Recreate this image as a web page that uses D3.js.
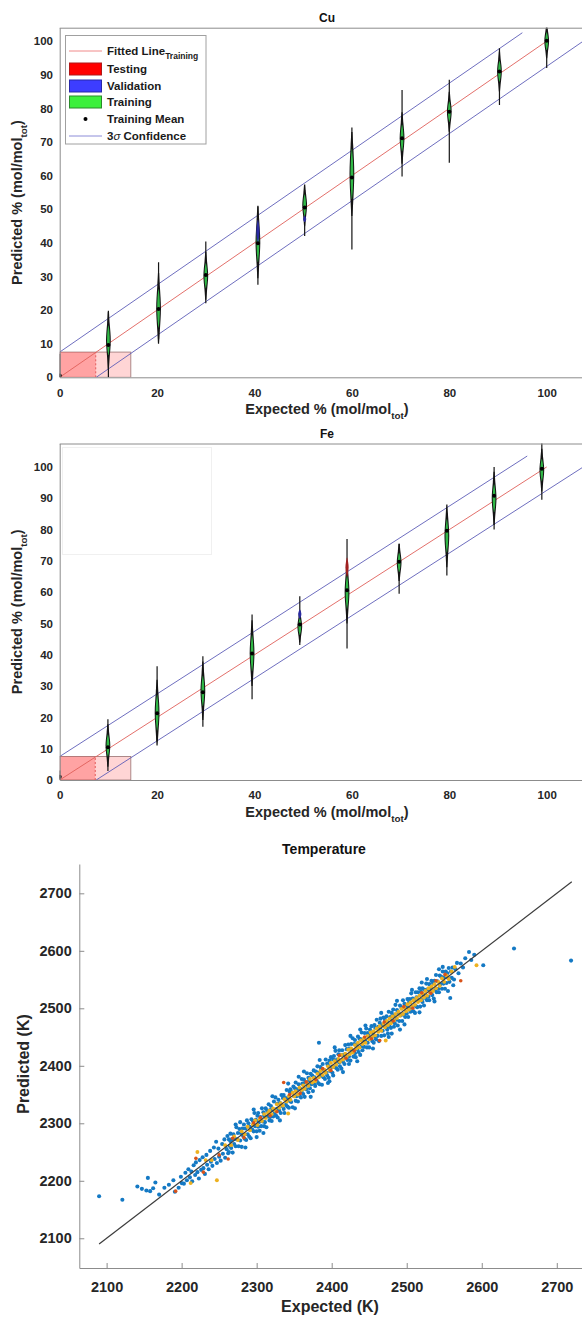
<!DOCTYPE html>
<html>
<head>
<meta charset="utf-8">
<script src="https://cdn.jsdelivr.net/npm/d3@7"></script>
<style>
  body { margin: 0; background: #fff; }
  svg { display: block; }
  text { font-family: "Liberation Sans", Arial, Helvetica, sans-serif; font-weight: bold; }
</style>
</head>
<body>
<svg id="chart" width="582" height="1318"></svg>
<script>
// ---------------- Cu: violins of predicted composition per expected level ----------------
const cuExpected = [0, 10, 20.3, 30, 40.7, 50.3, 60, 70.3, 80, 90.3, 100];
const cuMin      = [0, -1, 11.3, 22, 27.5, 42, 38, 59.7, 63.8, 81, 92];
const cuMax      = [7, 19.8, 34.2, 40.4, 51, 55.7, 74.3, 85.5, 88.5, 97.9, 106];
const cuMean     = [0.5, 9.6, 20.3, 30.4, 39.9, 50.5, 59.4, 71.1, 79, 91, 100.1];
const cuCoreLo   = [null, 6, 14, 26, 33.5, 47.5, 52, 66.7, 75.5, 87.5, 97];
const cuCoreHi   = [null, 16, 27, 34.4, 46.8, 54.8, 69, 75.7, 82.5, 94.5, 103];
const cuValLo    = [null, null, null, null, 40, 46.2, null, null, null, null, null];
const cuValHi    = [null, null, null, null, 46.8, 48, null, null, null, null, null];
const cuTestLo   = [null, null, null, null, null, null, null, null, null, null, null];
const cuTestHi   = [null, null, null, null, null, null, null, null, null, null, null];
const cuSigma3 = 7.5;          // half-width of the 3σ band
const cuUpperEnd = 95;         // last expected value of the upper 3σ line
const cuTestBox = [7.4, 14.6]; // testing region extents along x

// ---------------- Fe ----------------
const feExpected = [0, 9.9, 20, 29.4, 39.5, 49.3, 59, 69.7, 79.5, 89.2, 99];
const feMin      = [0, 2.9, 12.4, 17, 25.8, 43.1, 42, 59.5, 65.3, 80, 89.5];
const feMax      = [3, 19.4, 36.3, 39.5, 52.9, 58.7, 77, 75.5, 85.4, 100, 109];
const feMean     = [1, 10.5, 21.3, 28, 40.4, 49.7, 60.6, 69.7, 79.6, 90.8, 99.4];
const feCoreLo   = [null, 7, 15, 23, 34, 46, 54, 66, 72, 85, 95];
const feCoreHi   = [null, 15, 28, 34, 47, 52, 66, 73, 84, 95, 103];
const feValLo    = [null, null, null, null, null, 51.5, null, null, null, null, null];
const feValHi    = [null, null, null, null, null, 54.5, null, null, null, null, null];
const feTestLo   = [null, null, null, null, null, null, 65, null, null, null, null];
const feTestHi   = [null, null, null, null, null, null, 71, null, null, null, null];
const feSigma3 = 7.5;
const feUpperEnd = 96;
const feTestBox = [7.3, 14.6];

const pctTicksY = [0, 10, 20, 30, 40, 50, 60, 70, 80, 90, 100];
const pctTicksX = [0, 20, 40, 60, 80, 100];

// ---------------- Temperature: expected vs predicted (K) ----------------
const tempTraining = [
  [2090,2173],[2121,2167],[2141,2190],[2155,2205],[2153,2183],[2162,2187],[2165,2197],[2170,2176],
  [2177,2188],[2189,2201],[2191,2181],[2200,2196],[2158,2182],[2147,2186],[2183,2193],
  [2196,2188],[2199,2207],[2203,2195],[2205,2214],[2207,2201],[2209,2220],[2211,2206],[2213,2216],
  [2214,2199],[2216,2227],[2218,2210],[2219,2232],[2221,2215],[2223,2204],[2224,2236],[2226,2219],
  [2228,2241],[2229,2222],[2231,2212],[2233,2245],[2234,2228],[2236,2220],[2238,2252],[2239,2233],
  [2241,2226],[2243,2258],[2244,2238],[2246,2268],[2247,2231],[2249,2256],[2250,2242],[2252,2235],
  [2254,2264],[2255,2247],[2257,2272],[2258,2240],[2260,2255],[2261,2278],[2263,2250],[2265,2269],
  [2262,2248],[2263,2272],[2264,2261],[2265,2282],[2266,2257],[2267,2272],[2268,2249],[2269,2281],
  [2270,2264],[2271,2273],[2272,2260],[2273,2293],[2274,2272],[2275,2283],[2276,2260],[2277,2290],
  [2278,2270],[2279,2283],[2280,2259],[2281,2291],[2282,2278],[2283,2298],[2284,2273],[2285,2291],
  [2286,2271],[2287,2305],[2288,2281],[2289,2300],[2290,2277],[2291,2294],[2292,2274],[2293,2307],
  [2294,2289],[2295,2304],[2296,2286],[2297,2318],[2298,2295],[2299,2306],[2300,2286],
  [2301,2313],[2302,2294],[2302,2318],[2303,2302],[2304,2287],[2305,2311],[2306,2295],[2307,2326],
  [2308,2303],[2309,2319],[2310,2295],[2310,2313],[2311,2302],[2312,2326],[2313,2293],[2314,2322],
  [2315,2312],[2316,2333],[2317,2305],[2318,2323],[2318,2311],[2319,2330],[2320,2304],[2321,2323],
  [2322,2312],[2323,2338],[2324,2318],[2325,2345],[2326,2313],[2327,2334],[2327,2325],[2328,2310],
  [2329,2341],[2330,2322],[2331,2335],[2332,2318],[2333,2349],[2334,2330],[2335,2344],[2336,2325],
  [2336,2349],[2337,2318],[2338,2344],[2339,2332],[2340,2358],
  [2341,2329],[2342,2345],[2343,2327],[2344,2355],[2344,2339],[2345,2359],[2346,2337],[2347,2354],
  [2348,2328],[2349,2364],[2350,2347],[2351,2361],[2352,2339],[2352,2371],[2353,2347],[2354,2359],
  [2355,2338],[2356,2368],[2357,2348],[2358,2360],[2359,2345],[2360,2377],[2360,2356],[2361,2369],
  [2362,2351],[2363,2376],[2364,2346],[2365,2371],[2366,2359],[2367,2387],[2368,2366],[2369,2379],
  [2369,2354],[2370,2374],[2371,2361],[2372,2386],[2373,2368],[2374,2383],[2375,2356],[2376,2392],
  [2377,2369],[2377,2380],[2378,2365],[2379,2390],[2380,2374],
  [2381,2399],[2382,2370],[2383,2440],[2383,2388],[2384,2368],[2385,2398],[2386,2383],[2386,2394],
  [2387,2367],[2388,2403],[2389,2380],[2390,2392],[2391,2377],[2392,2411],[2393,2388],[2394,2404],
  [2394,2383],[2395,2401],[2396,2379],[2397,2409],[2398,2391],[2399,2415],[2400,2398],[2401,2388],
  [2402,2411],[2402,2383],[2403,2417],[2404,2398],[2405,2426],[2406,2396],[2407,2411],[2408,2393],
  [2409,2420],[2410,2406],[2410,2427],[2411,2399],[2412,2419],[2413,2395],[2414,2427],[2415,2407],
  [2416,2419],[2417,2403],[2418,2436],[2419,2416],[2420,2429],
  [2421,2410],[2422,2437],[2423,2416],[2423,2403],[2424,2430],[2425,2409],[2426,2438],[2427,2425],
  [2428,2448],[2429,2416],[2430,2438],[2431,2422],[2431,2445],[2432,2415],[2433,2437],[2434,2429],
  [2435,2451],[2436,2424],[2437,2447],[2438,2419],[2439,2446],[2440,2434],[2440,2458],[2441,2427],
  [2442,2445],[2443,2433],[2444,2457],[2445,2442],[2446,2465],[2447,2432],[2448,2457],[2448,2440],
  [2449,2454],[2450,2432],[2451,2463],[2452,2448],[2453,2469],[2454,2443],[2455,2457],[2456,2440],
  [2457,2471],[2457,2451],[2458,2466],[2459,2446],[2460,2480],
  [2461,2452],[2462,2468],[2463,2443],[2464,2475],[2465,2463],[2465,2482],[2466,2452],[2467,2471],
  [2468,2461],[2469,2484],[2470,2453],[2471,2480],[2472,2467],[2473,2486],[2474,2463],[2474,2476],
  [2475,2456],[2476,2494],[2477,2469],[2478,2485],[2479,2466],[2480,2492],[2481,2478],[2482,2498],
  [2483,2468],[2483,2488],[2484,2474],[2485,2506],[2486,2480],[2487,2497],[2488,2470],[2489,2492],
  [2490,2478],[2491,2505],[2491,2463],[2492,2488],[2493,2501],[2494,2478],[2495,2514],[2496,2489],
  [2497,2508],[2498,2485],[2499,2503],[2500,2491],
  [2501,2516],[2502,2485],[2503,2510],[2503,2500],[2504,2516],[2505,2494],[2506,2526],[2507,2501],
  [2508,2517],[2509,2495],[2510,2513],[2511,2492],[2512,2528],[2512,2504],[2513,2519],[2514,2502],
  [2515,2528],[2516,2514],[2517,2535],[2518,2503],[2519,2529],[2520,2515],[2521,2535],[2521,2511],
  [2522,2524],[2523,2505],[2524,2532],[2525,2518],[2526,2543],[2527,2514],[2528,2533],[2529,2520],
  [2530,2542],[2530,2514],[2531,2534],[2532,2528],[2533,2548],[2534,2523],[2535,2544],[2536,2517],
  [2537,2548],[2538,2532],[2539,2558],[2540,2528],
  [2541,2547],[2542,2534],[2543,2568],[2543,2528],[2544,2557],[2545,2542],[2546,2555],[2547,2534],
  [2548,2564],[2549,2543],[2550,2554],[2551,2534],[2552,2564],[2553,2544],[2554,2561],[2555,2553],
  [2556,2570],[2557,2546],[2558,2518],[2559,2564],[2560,2553],[2561,2571],[2563,2550],[2565,2568],
  [2567,2579],[2569,2561],[2572,2578],[2575,2571],[2578,2587],[2583,2598],[2586,2584],[2590,2593],
  [2602,2575],[2643,2604],[2719,2583],
  // scattered points at the edges of the band
  [2272,2298],[2285,2258],[2296,2324],[2309,2283],[2321,2347],[2331,2305],[2342,2369],[2351,2326],
  [2363,2390],[2372,2346],[2384,2410],[2395,2370],[2404,2432],[2415,2389],[2425,2452],[2434,2408],
  [2445,2470],[2455,2430],[2466,2492],[2476,2450],[2487,2513],[2497,2472],[2507,2532],[2517,2493],
  [2527,2551],[2537,2512],[2548,2572],[2555,2530],[2278,2302],[2300,2276],[2356,2381],[2397,2373],
  [2438,2463],[2480,2456],[2520,2545],[2562,2540]
];
const tempValidation = [
  [2212,2196],[2221,2250],[2247,2201],[2232,2236],[2240,2236],[2258,2262],[2266,2262],[2270,2277],
  [2275,2271],[2280,2286],[2284,2281],[2288,2294],[2291,2288],[2295,2298],[2298,2305],[2301,2297],
  [2304,2307],[2307,2304],[2310,2316],[2312,2309],[2315,2318],[2317,2322],[2320,2316],[2322,2326],
  [2325,2322],[2327,2333],[2330,2327],[2332,2335],[2335,2331],[2337,2342],[2340,2338],[2342,2317],
  [2343,2347],[2345,2341],[2348,2353],[2350,2347],[2352,2356],[2355,2350],[2357,2362],[2360,2358],
  [2362,2366],[2364,2360],[2367,2370],[2369,2365],[2371,2377],[2374,2371],[2376,2379],[2378,2373],
  [2381,2386],[2383,2380],[2385,2391],[2388,2384],[2390,2393],[2392,2388],[2395,2399],[2397,2393],
  [2399,2405],[2402,2398],[2404,2408],[2406,2402],[2409,2412],[2411,2407],[2413,2419],[2415,2411],
  [2418,2421],[2420,2416],[2422,2428],[2424,2420],[2426,2430],[2428,2423],[2431,2436],[2433,2430],
  [2435,2440],[2437,2432],[2439,2444],[2441,2438],[2443,2448],[2445,2440],[2448,2452],[2450,2446],
  [2452,2458],[2454,2450],[2456,2460],[2458,2453],[2460,2465],[2462,2459],[2464,2469],[2466,2461],
  [2469,2473],[2471,2467],[2472,2444],[2473,2478],[2475,2471],[2477,2482],[2479,2474],[2481,2486],
  [2483,2479],[2485,2490],[2487,2483],[2489,2494],[2491,2487],[2493,2499],[2495,2490],[2497,2501],
  [2499,2495],[2501,2507],[2503,2498],[2505,2510],[2507,2503],[2509,2514],[2511,2506],[2513,2518],
  [2515,2511],[2517,2522],[2519,2514],[2521,2526],[2523,2519],[2525,2530],[2527,2522],[2529,2535],
  [2531,2527],[2533,2538],[2535,2530],[2537,2542],[2539,2535],[2542,2546],[2544,2539],[2547,2552],
  [2550,2546],[2553,2557],[2556,2551],[2560,2564],[2564,2572],[2593,2575]
];
const tempTesting = [
  [2192,2182],[2219,2239],[2229,2215],[2250,2245],[2262,2238],[2268,2274],[2283,2275],[2296,2301],
  [2305,2310],[2318,2313],[2327,2320],[2336,2371],[2344,2350],[2358,2352],[2366,2372],[2379,2376],
  [2388,2395],[2399,2392],[2410,2418],[2419,2413],[2430,2426],[2444,2450],[2453,2447],[2464,2444],
  [2470,2476],[2482,2478],[2496,2503],[2508,2500],[2520,2527],[2532,2526],[2539,2548],[2551,2559],
  [2572,2548]
];
const tempTicks = [2100, 2200, 2300, 2400, 2500, 2600, 2700];
const identityRange = [2090, 2720];

// ---------------- drawing ----------------
const svg = d3.select("#chart");
const axisGray = "#8c8c8c";
const labelColor = "#262626";

const xPct = d3.scaleLinear().domain([0, 110]).range([59.7, 595.4]);

function styleAxis(g, fontSize) {
  g.select(".domain").attr("stroke", axisGray).attr("stroke-width", 1);
  g.selectAll(".tick line").attr("stroke", axisGray);
  g.selectAll(".tick text").attr("fill", labelColor).attr("font-size", fontSize)
    .attr("font-family", "Liberation Sans, Arial, sans-serif").attr("font-weight", "bold");
}

function subscriptLabel(sel, main, sub, tail, size) {
  sel.append("tspan").text(main);
  sel.append("tspan").text(sub).attr("font-size", size * 0.68).attr("dy", size * 0.32);
  sel.append("tspan").text(tail).attr("dy", -size * 0.32);
}

function violinPanel(cfg) {
  const x = xPct;
  const y = d3.scaleLinear().domain([0, cfg.yMax]).range([cfg.bottom, cfg.top]);
  const clipId = "clip-" + cfg.id;
  svg.append("clipPath").attr("id", clipId).append("rect")
    .attr("x", x(0)).attr("y", cfg.top)
    .attr("width", x(110) - x(0)).attr("height", cfg.bottom - cfg.top);

  const g = svg.append("g");
  const plot = g.append("g").attr("clip-path", `url(#${clipId})`);

  // testing region
  plot.append("rect")
    .attr("x", x(0)).attr("y", y(cfg.sigma3))
    .attr("width", x(cfg.testBox[1]) - x(0)).attr("height", y(0) - y(cfg.sigma3))
    .attr("fill", "rgba(255,0,0,0.165)").attr("stroke", "#a47e7e").attr("stroke-width", 0.9);
  plot.append("rect")
    .attr("x", x(0)).attr("y", y(cfg.sigma3))
    .attr("width", x(cfg.testBox[0]) - x(0)).attr("height", y(0) - y(cfg.sigma3))
    .attr("fill", "rgba(255,0,0,0.23)");
  plot.append("line")
    .attr("x1", x(cfg.testBox[0])).attr("x2", x(cfg.testBox[0]))
    .attr("y1", y(0)).attr("y2", y(cfg.sigma3))
    .attr("stroke", "#e05050").attr("stroke-width", 0.9).attr("stroke-dasharray", "2,2");

  const line = d3.line().x(d => x(d[0])).y(d => y(d[1]));
  // 3σ confidence lines
  plot.append("path").datum([[0, cfg.sigma3], [cfg.upperEnd, cfg.upperEnd + cfg.sigma3]])
    .attr("d", line).attr("fill", "none").attr("stroke", "#5e5eb8").attr("stroke-width", 0.9);
  plot.append("path").datum([[cfg.sigma3, 0], [112, 112 - cfg.sigma3]])
    .attr("d", line).attr("fill", "none").attr("stroke", "#5e5eb8").attr("stroke-width", 0.9);
  // fitted line
  plot.append("path").datum([[0, 0], [100, 100]])
    .attr("d", line).attr("fill", "none").attr("stroke", "#e0605a").attr("stroke-width", 0.9);

  const spindle = (cx) => d3.area().curve(d3.curveCatmullRom.alpha(0.5))
    .y(d => y(d.v)).x0(d => cx - d.w).x1(d => cx + d.w);

  cfg.xs.forEach((xv, i) => {
    const cx = x(xv);
    // tails
    plot.append("line").attr("x1", cx).attr("x2", cx)
      .attr("y1", y(cfg.min[i])).attr("y2", y(cfg.max[i]))
      .attr("stroke", "#151515").attr("stroke-width", 1.2);
    const lo = cfg.coreLo[i], hi = cfg.coreHi[i];
    if (lo != null) {
      const L = hi - lo, mid = (lo + hi) / 2;
      const ext = Math.min(L * 0.35, 4);
      const outer = [
        { v: lo - ext, w: 0.6 }, { v: lo, w: 1.3 }, { v: lo + L * 0.25, w: 2.0 },
        { v: mid, w: 2.4 }, { v: hi - L * 0.25, w: 2.0 }, { v: hi, w: 1.3 }, { v: hi + ext, w: 0.6 }
      ];
      plot.append("path").datum(outer).attr("d", spindle(cx)).attr("fill", "#141414");
      const inner = [
        { v: lo + L * 0.06, w: 0.15 }, { v: lo + L * 0.25, w: 1.0 }, { v: mid, w: 1.35 },
        { v: hi - L * 0.25, w: 1.0 }, { v: hi - L * 0.06, w: 0.15 }
      ];
      plot.append("path").datum(inner).attr("d", spindle(cx)).attr("fill", "#30b846");
    }
    // validation and testing sub-spindles
    [[cfg.valLo, cfg.valHi, "#2a2aa0"], [cfg.testLo, cfg.testHi, "#a02020"]].forEach(([a, b, col]) => {
      if (a[i] == null) return;
      const mid = (a[i] + b[i]) / 2;
      const pts = [{ v: a[i], w: 0.3 }, { v: mid, w: 1.6 }, { v: b[i], w: 0.3 }];
      plot.append("path").datum(pts).attr("d", spindle(cx)).attr("fill", col);
    });
    // training mean
    plot.append("circle").attr("cx", cx).attr("cy", y(cfg.mean[i])).attr("r", 2).attr("fill", "#000");
  });

  // axes
  const ay = g.append("g").attr("transform", `translate(${x(0)},0)`)
    .call(d3.axisLeft(y).tickValues(pctTicksY).tickSizeInner(0).tickSizeOuter(0).tickPadding(6.7));
  styleAxis(ay, 11.5);
  const ax = g.append("g").attr("transform", `translate(0,${cfg.bottom})`)
    .call(d3.axisBottom(x).tickValues(pctTicksX).tickSizeInner(0).tickSizeOuter(0).tickPadding(11.2));
  styleAxis(ax, 11.5);
  g.append("line").attr("x1", x(0)).attr("x2", x(110)).attr("y1", cfg.top + 0.5).attr("y2", cfg.top + 0.5)
    .attr("stroke", axisGray).attr("stroke-width", 1);

  // title and axis labels
  g.append("text").attr("x", 327).attr("y", cfg.top - 6).attr("text-anchor", "middle")
    .attr("font-size", 12).attr("fill", "#111").text(cfg.title);
  const xl = g.append("text").attr("x", 327).attr("y", cfg.bottom + 37).attr("text-anchor", "middle")
    .attr("font-size", 14.5).attr("fill", labelColor);
  subscriptLabel(xl, "Expected % (mol/mol", "tot", ")", 14.5);
  const yl = g.append("text")
    .attr("transform", `translate(22,${(cfg.top + cfg.bottom) / 2}) rotate(-90)`)
    .attr("text-anchor", "middle").attr("font-size", 14.5).attr("fill", labelColor);
  subscriptLabel(yl, "Predicted % (mol/mol", "tot", ")", 14.5);

  return { g, x, y };
}

// Cu panel
const cu = violinPanel({
  id: "cu", title: "Cu", top: 27.7, bottom: 377.3, yMax: 104,
  xs: cuExpected, min: cuMin, max: cuMax, mean: cuMean,
  coreLo: cuCoreLo, coreHi: cuCoreHi, valLo: cuValLo, valHi: cuValHi,
  testLo: cuTestLo, testHi: cuTestHi,
  sigma3: cuSigma3, upperEnd: cuUpperEnd, testBox: cuTestBox
});

// Fe panel
const fe = violinPanel({
  id: "fe", title: "Fe", top: 443.5, bottom: 780, yMax: 107.5,
  xs: feExpected, min: feMin, max: feMax, mean: feMean,
  coreLo: feCoreLo, coreHi: feCoreHi, valLo: feValLo, valHi: feValHi,
  testLo: feTestLo, testHi: feTestHi,
  sigma3: feSigma3, upperEnd: feUpperEnd, testBox: feTestBox
});
// Fe legend box left empty
fe.g.append("rect").attr("x", 62.5).attr("y", 447.5).attr("width", 149).attr("height", 107)
  .attr("fill", "#fff").attr("stroke", "#f0f0f0").attr("stroke-width", 1);

// Cu legend
const legend = cu.g.append("g");
legend.append("rect").attr("x", 65.5).attr("y", 35.5).attr("width", 140.5).attr("height", 108.5)
  .attr("fill", "#fff").attr("stroke", "#a0a0a0").attr("stroke-width", 1);
const legendItems = [
  { kind: "line", color: "#f08a8a", label: "Fitted Line", sub: "Training", y: 51 },
  { kind: "patch", color: "#ff0000", edge: "#b01818", label: "Testing", y: 69 },
  { kind: "patch", color: "#3d3dff", edge: "#2828a8", label: "Validation", y: 86 },
  { kind: "patch", color: "#3cf03c", edge: "#2a8a2a", label: "Training", y: 102 },
  { kind: "dot", color: "#000", label: "Training Mean", y: 119 },
  { kind: "line", color: "#8c8cd8", label: "3σ Confidence", y: 136 }
];
legendItems.forEach(it => {
  if (it.kind === "line") {
    legend.append("line").attr("x1", 69).attr("x2", 102).attr("y1", it.y).attr("y2", it.y)
      .attr("stroke", it.color).attr("stroke-width", 1);
  } else if (it.kind === "patch") {
    legend.append("rect").attr("x", 69.5).attr("y", it.y - 6).attr("width", 32).attr("height", 12)
      .attr("fill", it.color).attr("stroke", it.edge).attr("stroke-width", 1);
  } else {
    legend.append("circle").attr("cx", 85.5).attr("cy", it.y).attr("r", 2).attr("fill", it.color);
  }
  const t = legend.append("text").attr("x", 107).attr("y", it.y + 4)
    .attr("font-size", 11.5).attr("fill", "#1a1a1a");
  if (it.sub) {
    t.append("tspan").text(it.label);
    t.append("tspan").text(it.sub).attr("font-size", 8.5).attr("dy", 4);
  } else if (it.label.startsWith("3σ")) {
    t.append("tspan").text("3");
    t.append("tspan").text("σ").attr("font-style", "italic").attr("font-weight", "normal");
    t.append("tspan").text(" Confidence");
  } else {
    t.text(it.label);
  }
});

// Temperature panel
const tx = d3.scaleLinear().domain([2063.6, 2740]).range([79.3, 586.8]);
const ty = d3.scaleLinear().domain([2048.3, 2751]).range([1268, 864]);
const tg = svg.append("g");

const dotLayer = tg.append("g");
[[tempTraining, "#1479c4", 2.05], [tempValidation, "#EDB120", 1.95], [tempTesting, "#D95319", 1.8]]
  .forEach(([pts, col, r]) => {
    dotLayer.selectAll(null).data(pts).enter().append("circle")
      .attr("cx", d => tx(d[0])).attr("cy", d => ty(d[1])).attr("r", r).attr("fill", col);
  });
tg.append("line")
  .attr("x1", tx(identityRange[0])).attr("y1", ty(identityRange[0]))
  .attr("x2", tx(identityRange[1])).attr("y2", ty(identityRange[1]))
  .attr("stroke", "#3c3c3c").attr("stroke-width", 1.2);

const tAy = tg.append("g").attr("transform", `translate(${tx.range()[0]},0)`)
  .call(d3.axisLeft(ty).tickValues(tempTicks).tickFormat(d3.format("d"))
    .tickSizeInner(-5).tickSizeOuter(0).tickPadding(7.6));
styleAxis(tAy, 14.5);
const tAx = tg.append("g").attr("transform", `translate(0,${ty.range()[0]})`)
  .call(d3.axisBottom(tx).tickValues(tempTicks).tickFormat(d3.format("d"))
    .tickSizeInner(-5).tickSizeOuter(0).tickPadding(13.5));
styleAxis(tAx, 14.5);

tg.append("text").attr("x", 324).attr("y", 854).attr("text-anchor", "middle")
  .attr("font-size", 14).attr("fill", "#111").text("Temperature");
tg.append("text").attr("x", 330).attr("y", 1312).attr("text-anchor", "middle")
  .attr("font-size", 16).attr("fill", labelColor).text("Expected (K)");
tg.append("text").attr("transform", "translate(29,1064) rotate(-90)").attr("text-anchor", "middle")
  .attr("font-size", 16).attr("fill", labelColor).text("Predicted (K)");
</script>
</body>
</html>
